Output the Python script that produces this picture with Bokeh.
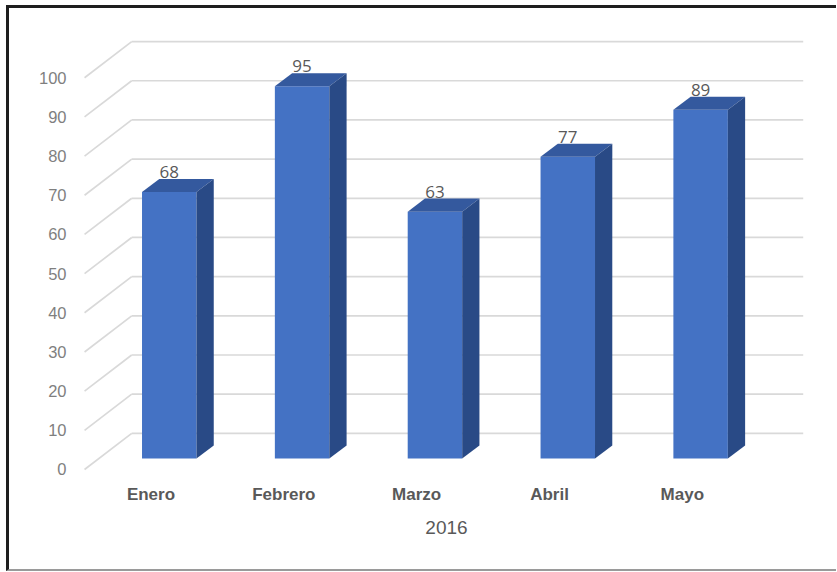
from bokeh.plotting import figure
from bokeh.models import Range1d, FixedTicker
from bokeh.embed import file_html
from bokeh.resources import INLINE

# ---- data ----
categories = ["Enero", "Febrero", "Marzo", "Abril", "Mayo"]
values = [68, 95, 63, 77, 89]
y_ticks = [0, 10, 20, 30, 40, 50, 60, 70, 80, 90, 100]
x_title = "2016"

# ---- 3D styling constants (data units) ----
DEPTH_DX = 0.355     # floor depth shift (x)
DEPTH_DY = 9.23      # floor depth shift (y)
BAR_OFF_X = 0.1376   # bar front-face offset from category centre
BAR_OFF_Y = 2.82
BAR_W = 0.41
SIDE_DX = 0.13
SIDE_DY = 3.33
WALL_RIGHT = 5.41

FRONT = "#4472c4"
TOP = "#34599e"
SIDE = "#294a86"
GRID = "#d9d9d9"

p = figure(width=830, height=566, output_backend="svg", toolbar_location=None,
           x_range=Range1d(-0.0907, 5.54), y_range=Range1d(-1.026, 114.87),
           min_border_left=63, min_border_right=19, min_border_top=11, min_border_bottom=101)
p.styles = {"margin-left": "6px", "margin-top": "5px",
            "border-top": "3px solid #1e1e1e", "border-left": "3px solid #1e1e1e",
            "border-bottom": "2px solid #9a9a9a"}
p.outline_line_color = None
p.xgrid.visible = False
p.ygrid.visible = False

# gridlines: diagonal floor edges + back wall
n = len(y_ticks)
p.segment(x0=[0.0] * n, y0=y_ticks, x1=[DEPTH_DX] * n, y1=[v + DEPTH_DY for v in y_ticks],
          line_color=GRID, line_width=1.7)
p.segment(x0=[DEPTH_DX] * n, y0=[v + DEPTH_DY for v in y_ticks], x1=[WALL_RIGHT] * n,
          y1=[v + DEPTH_DY for v in y_ticks], line_color=GRID, line_width=1.7)

# bars
xc = [i + 0.5 for i in range(len(categories))]
lefts = [x + BAR_OFF_X - BAR_W / 2 for x in xc]
rights = [x + BAR_OFF_X + BAR_W / 2 for x in xc]
p.quad(left=lefts, right=rights, bottom=[BAR_OFF_Y] * len(values),
       top=[v + BAR_OFF_Y for v in values], fill_color=FRONT, line_color=None)

top_xs, top_ys, side_xs, side_ys = [], [], [], []
for l, r, v in zip(lefts, rights, values):
    yt = v + BAR_OFF_Y
    top_xs.append([l, r, r + SIDE_DX, l + SIDE_DX])
    top_ys.append([yt, yt, yt + SIDE_DY, yt + SIDE_DY])
    side_xs.append([r, r + SIDE_DX, r + SIDE_DX, r])
    side_ys.append([BAR_OFF_Y, BAR_OFF_Y + SIDE_DY, yt + SIDE_DY, yt])
p.patches(top_xs, top_ys, fill_color=TOP, line_color=None)
p.patches(side_xs, side_ys, fill_color=SIDE, line_color=None)

# value labels
p.text(x=[x + BAR_OFF_X for x in xc], y=[v + BAR_OFF_Y + SIDE_DY for v in values],
       text=[str(v) for v in values], text_align="center", text_baseline="bottom",
       text_font={"value": "Open Sans"}, text_font_size="17px", text_color="#595959", y_offset=-1)

# axes
p.yaxis.ticker = FixedTicker(ticks=y_ticks)
p.yaxis.axis_line_color = None
p.yaxis.major_tick_line_color = None
p.yaxis.minor_tick_line_color = None
p.yaxis.major_label_standoff = 0
p.yaxis.major_label_text_font = "Liberation Sans"
p.yaxis.major_label_text_font_size = "16.5px"
p.yaxis.major_label_text_color = "#7f7f7f"

p.xaxis.ticker = FixedTicker(ticks=xc)
p.xaxis.major_label_overrides = {x: c for x, c in zip(xc, categories)}
p.xaxis.axis_line_color = None
p.xaxis.major_tick_line_color = None
p.xaxis.minor_tick_line_color = None
p.xaxis.major_label_standoff = 5
p.xaxis.major_label_text_font = "Liberation Sans"
p.xaxis.major_label_text_font_style = "bold"
p.xaxis.major_label_text_font_size = "17px"
p.xaxis.major_label_text_color = "#595959"
p.xaxis.axis_label = x_title
p.xaxis.axis_label_standoff = 14
p.xaxis.axis_label_text_font = "Liberation Sans"
p.xaxis.axis_label_text_font_style = "normal"
p.xaxis.axis_label_text_font_size = "19px"
p.xaxis.axis_label_text_color = "#595959"

open("out.html", "w").write(file_html(p, INLINE))
